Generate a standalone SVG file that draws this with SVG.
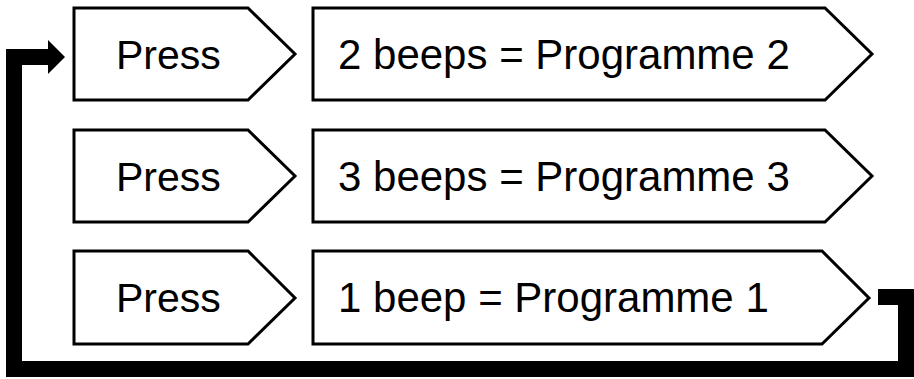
<svg xmlns="http://www.w3.org/2000/svg" width="914" height="379" viewBox="0 0 914 379">
  <style>
    .box { fill: #ffffff; stroke: #000000; stroke-width: 3; stroke-linejoin: miter; }
    .lbl { font-family: "Liberation Sans", Arial, sans-serif; font-size: 41px; fill: #000000; }
    .lbl2 { font-size: 42px; }
    .conn { fill: none; stroke: #000000; stroke-width: 16; stroke-linejoin: miter; stroke-linecap: butt; }
  </style>
  <rect width="914" height="379" fill="#ffffff"/>
  <g id="press1">
    <path class="box" d="M74,8 H248 L295,54 L248,100 H74 Z"/>
    <text class="lbl" x="116" y="69">Press</text>
  </g>
  <g id="prog2">
    <path class="box" d="M313,8 H825 L872,54 L825,100 H313 Z"/>
    <text class="lbl lbl2" x="338" y="69">2 beeps = Programme 2</text>
  </g>
  <g id="press2">
    <path class="box" d="M74,130 H248 L295,176 L248,222 H74 Z"/>
    <text class="lbl" x="116" y="191">Press</text>
  </g>
  <g id="prog3">
    <path class="box" d="M313,130 H825 L872,176 L825,222 H313 Z"/>
    <text class="lbl lbl2" x="338" y="191">3 beeps = Programme 3</text>
  </g>
  <g id="press3">
    <path class="box" d="M74,251 H248 L295,298 L248,344 H74 Z"/>
    <text class="lbl" x="116" y="312">Press</text>
  </g>
  <g id="prog1">
    <path class="box" d="M313,251 H822 L869,298 L822,344 H313 Z"/>
    <text class="lbl lbl2" x="338" y="312">1 beep = Programme 1</text>
  </g>
  <g id="connectors">
    <path class="conn" d="M878,297 H906 V369 H14 V57 H50"/>
    <polygon points="48,40 65,57 48,74" fill="#000000"/>
  </g>
</svg>
